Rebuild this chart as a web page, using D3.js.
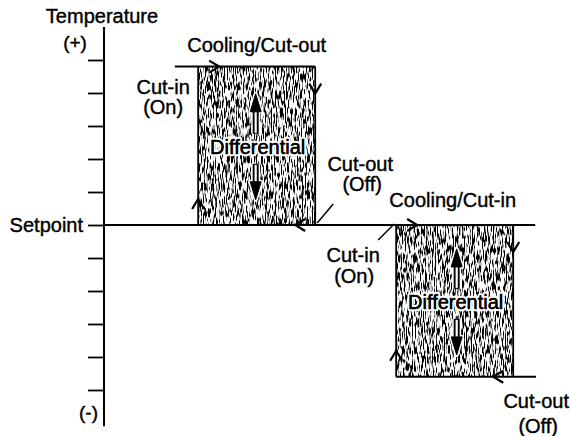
<!DOCTYPE html>
<html><head><meta charset="utf-8">
<script src="https://cdn.jsdelivr.net/npm/d3@7"></script>
<style>
html,body{margin:0;padding:0;background:#fff;}
svg{display:block;}
text{font-family:"Liberation Sans",Arial,Helvetica,sans-serif;fill:#000;}
</style></head>
<body>
<svg id="chart" width="570" height="436"></svg>
<script>
// ---- data ----
const yTicks = [-5,-4,-3,-2,-1,0,1,2,3,4,5];
const setpoint = 0;
const axisExtent = [6, -6.1];
const cycleTitles = ["Cooling/Cut-out", "Cooling/Cut-in"];
const cutInX  = [2.14, 6.64];
const cutOutX = [4.80, 9.30];
const highTemp = [4.8, 0];
const lowTemp  = [0, -4.6];
const leadInX = 1.61;
const leadOutX = 9.82;
const setpointEndX = 9.8;
const axisTitle = "Temperature";
const plusLabel = "(+)", minusLabel = "(-)";
const setpointLabel = "Setpoint";
const cutInLabel = ["Cut-in", "(On)"];
const cutOutLabel = ["Cut-out", "(Off)"];
const diffLabel = "Differential";

// ---- scales ----
const svg = d3.select("#chart");
const x = d3.scaleLinear().domain([0, 10]).range([104, 544]);
const y = d3.scaleLinear().domain([-5, 5]).range([390, 60]);

// texture filter
const defs = svg.append("defs");
const f = defs.append("filter").attr("id","stipple")
  .attr("x",0).attr("y",0).attr("width",1).attr("height",1)
  .attr("color-interpolation-filters","sRGB");
f.append("feTurbulence").attr("type","fractalNoise")
  .attr("baseFrequency","0.9 0.11").attr("numOctaves",2).attr("seed",11).attr("result","n");
f.append("feColorMatrix").attr("type","matrix")
  .attr("values","1 0 0 0 0  1 0 0 0 0  1 0 0 0 0  0 0 0 0 1").attr("result","g");
const ct = f.append("feComponentTransfer").attr("result","t");
["feFuncR","feFuncG","feFuncB"].forEach(k=>ct.append(k).attr("type","linear").attr("slope",7).attr("intercept",-2.76));
f.append("feComposite").attr("in","t").attr("in2","SourceGraphic").attr("operator","in");

// ---- axis ----
const axis = d3.axisLeft(y).tickValues(yTicks).tickSize(16).tickPadding(5)
  .tickFormat(d => d === setpoint ? setpointLabel : "");
const ag = svg.append("g").attr("transform", `translate(${x(0)},0)`).call(axis);
ag.select(".domain").remove();
ag.selectAll(".tick line").attr("stroke","#000").attr("stroke-width",1.8);
ag.selectAll(".tick text").style("font-size","20px").attr("fill","#000")
  .attr("font-family","Liberation Sans, Arial, sans-serif").attr("dy","0.3em")
  .attr("stroke","#000").attr("stroke-width",0.4);
svg.append("line").attr("x1",x(0)).attr("x2",x(0))
  .attr("y1",y(axisExtent[0])).attr("y2",y(axisExtent[1]))
  .attr("stroke","#000").attr("stroke-width",2);

function label(txt, xx, yy, size, anchor){
  return svg.append("text").attr("x",xx).attr("y",yy).attr("text-anchor",anchor||"middle")
    .style("font-size",(size||20)+"px").attr("stroke","#000").attr("stroke-width",0.4).text(txt);
}

label(axisTitle, x(0)-2, y(axisExtent[0])-4);
label(plusLabel, x(0)-29, y(5)-11, 19);
label(minusLabel, x(0)-6, y(-5)+29, 19, "end");

// ---- boxes ----
cutInX.forEach((d,i)=>{
  svg.append("rect")
    .attr("x",x(cutInX[i])).attr("y",y(highTemp[i]))
    .attr("width",x(cutOutX[i])-x(cutInX[i]))
    .attr("height",y(lowTemp[i])-y(highTemp[i]))
    .attr("fill","#000").attr("filter","url(#stipple)");
});

const lineG = svg.append("g").attr("stroke","#000").attr("stroke-width",1.8).attr("fill","none");
function seg(x1,y1,x2,y2,w){lineG.append("line").attr("x1",x1).attr("y1",y1).attr("x2",x2).attr("y2",y2).attr("stroke-width",w||1.8);}
seg(x(0), y(setpoint), x(setpointEndX), y(setpoint), 2);
seg(x(leadInX), y(highTemp[0]), x(cutOutX[0]), y(highTemp[0]), 2);
seg(x(cutInX[1]), y(lowTemp[1]), x(leadOutX), y(lowTemp[1]), 2);
cutInX.forEach((d,i)=>{
  seg(x(cutInX[i]), y(lowTemp[i]), x(cutInX[i]), y(highTemp[i]));
  seg(x(cutOutX[i]), y(highTemp[i]), x(cutOutX[i]), y(lowTemp[i]));
});

// chevrons
function chevron(px,py,dx,dy){
  const L=10,W=6, nx=-dy, ny=dx;
  const a1=[px-L*dx+W*nx, py-L*dy+W*ny], a2=[px-L*dx-W*nx, py-L*dy-W*ny];
  lineG.append("path").attr("d",`M${a1}L${px},${py}L${a2}`).attr("stroke-width",2.2);
}
cutInX.forEach((d,i)=>{
  const l=x(cutInX[i]), r=x(cutOutX[i]), t=y(highTemp[i]), b=y(lowTemp[i]);
  chevron(l+21, t, 1, 0);
  chevron(r, t+27, 0, 1);
  chevron(r-20, b, -1, 0);
  chevron(l, b-26, 0, -1);
});

// leaders
{
  const r=x(cutOutX[0]), b=y(lowTemp[0]);
  seg(r+2, b-2, r+18, b-21, 1.5);
  const l=x(cutInX[1]), t=y(highTemp[1]);
  seg(l-18, t+15, l-2, t-1, 1.5);
}

// ---- labels ----
label(cycleTitles[0], (x(cutInX[0])+x(cutOutX[0]))/2, y(highTemp[0])-15);
label(cycleTitles[1], (x(cutInX[1])+x(cutOutX[1]))/2 - 2, y(highTemp[1])-18);
label(cutInLabel[0], x(cutInX[0])-35, y(highTemp[0])+27);
label(cutInLabel[1], x(cutInX[0])-35, y(highTemp[0])+47);
label(cutOutLabel[0], x(cutOutX[0])+45, y(lowTemp[0])-54);
label(cutOutLabel[1], x(cutOutX[0])+47, y(lowTemp[0])-34);
label(cutInLabel[0], x(cutInX[1])-43, y(highTemp[1])+37);
label(cutInLabel[1], x(cutInX[1])-42, y(highTemp[1])+58);
label(cutOutLabel[0], x(cutOutX[1])+23, y(lowTemp[1])+31);
label(cutOutLabel[1], x(cutOutX[1])+25, y(lowTemp[1])+56);

// differential + arrows
cutInX.forEach((d,i)=>{
  const cx=(x(cutInX[i])+x(cutOutX[i]))/2, mid=(y(highTemp[i])+y(lowTemp[i]))/2;
  const ax = cx + (i===0?-1:2);
  const ag2 = svg.append("g");
  function arrow(y1,y2){
    const dir = y2>y1?1:-1, hl=18, hw=5.5;
    const base = y2 - dir*hl;
    ag2.append("line").attr("x1",ax).attr("x2",ax).attr("y1",y1).attr("y2",base)
      .attr("stroke","#fff").attr("stroke-width",9);
    ag2.append("path").attr("d",`M${ax-hw},${base}L${ax},${y2}L${ax+hw},${base}Z`)
      .attr("fill","#fff").attr("stroke","#fff").attr("stroke-width",4).attr("stroke-linejoin","round");
    ag2.append("line").attr("x1",ax).attr("x2",ax).attr("y1",y1).attr("y2",base)
      .attr("stroke","#000").attr("stroke-width",6);
    ag2.append("line").attr("x1",ax).attr("x2",ax).attr("y1",y1+dir*1).attr("y2",base)
      .attr("stroke","#fff").attr("stroke-width",2.2);
    ag2.append("path").attr("d",`M${ax-hw},${base}L${ax},${y2}L${ax+hw},${base}Z`)
      .attr("fill","#000").attr("stroke","#000").attr("stroke-width",1);
  }
  arrow(mid-12, mid-52);
  arrow(mid+18, mid+54);
  svg.append("text").attr("x",cx+1).attr("y",mid+8).attr("text-anchor","middle")
    .style("font-size","20px").attr("stroke","#fff").attr("stroke-width",4.5)
    .attr("paint-order","stroke").attr("stroke-linejoin","round").text(diffLabel);
  svg.append("text").attr("x",cx+1).attr("y",mid+8).attr("text-anchor","middle")
    .style("font-size","20px").attr("stroke","#000").attr("stroke-width",0.4).text(diffLabel);
});
</script>
</body></html>
